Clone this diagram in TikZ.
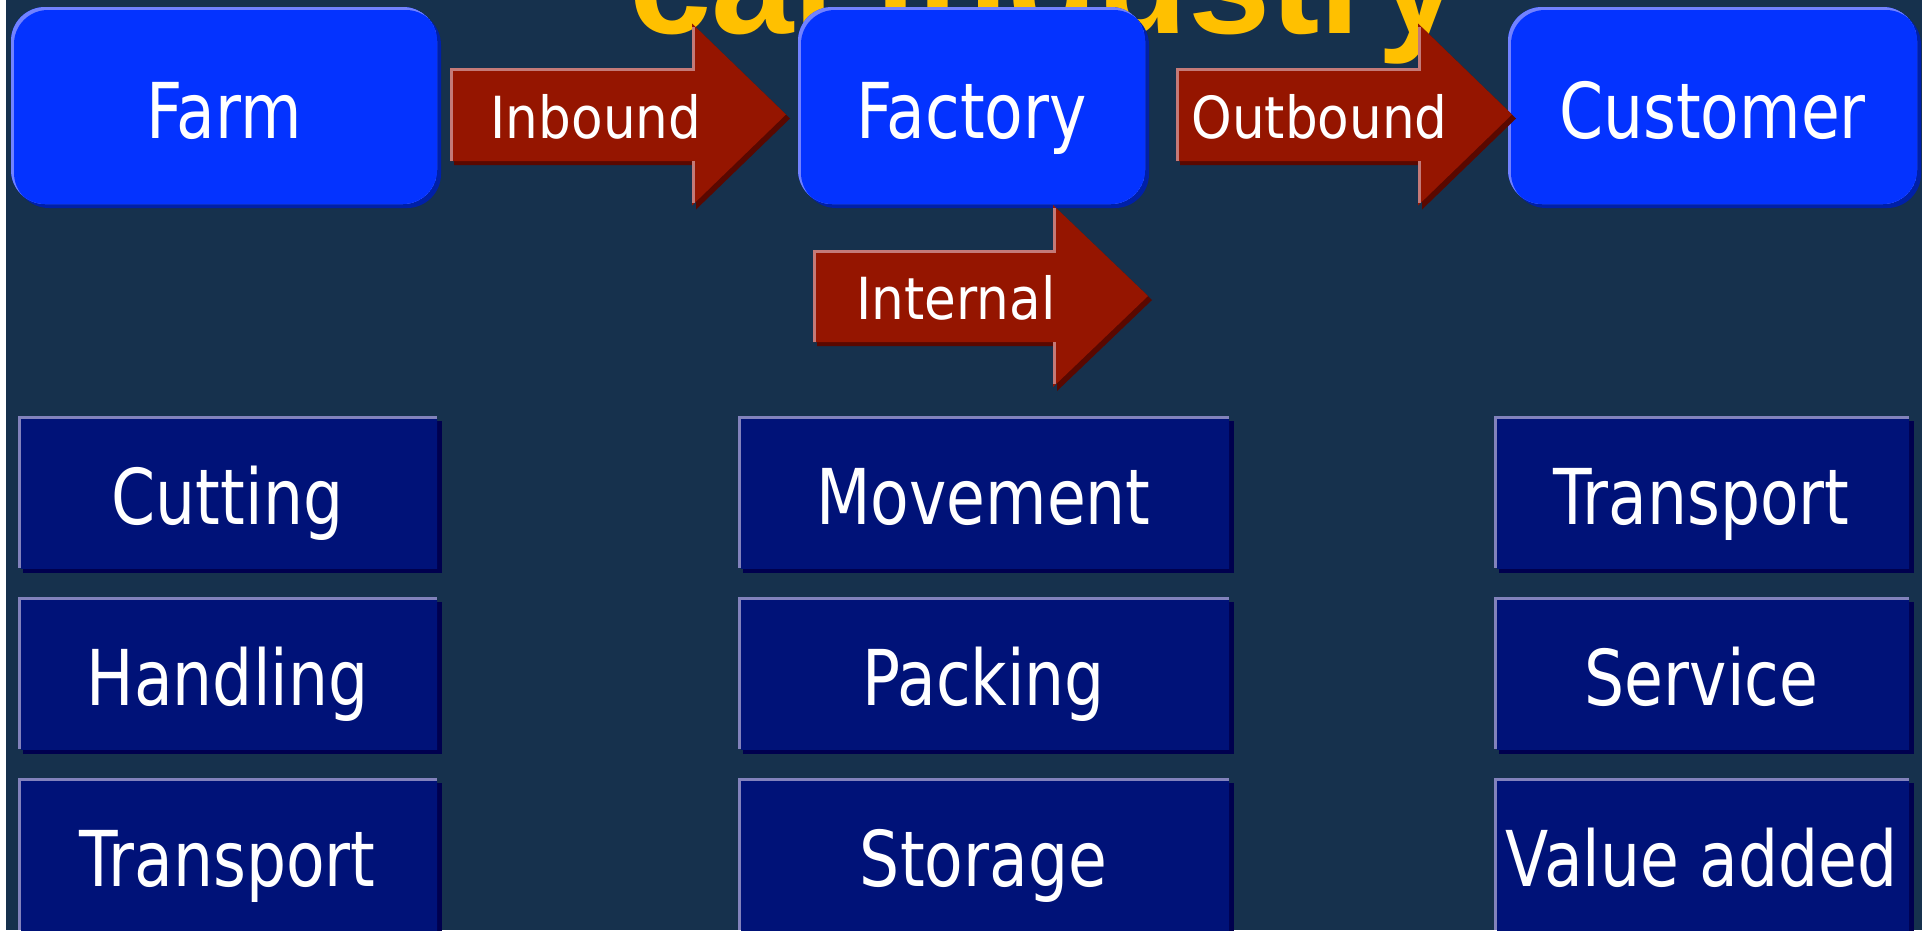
\documentclass[tikz,border=0pt]{standalone}
\usepackage{fontspec}
\setmainfont{DejaVu Sans}
\newfontfamily\boxfont{DejaVu Sans}[FakeStretch=0.82]
\newfontfamily\arrowfont{DejaVu Sans}[FakeStretch=0.89]
\newfontfamily\titlefont{Liberation Sans}
\usetikzlibrary{shadows}

\definecolor{bgslate}{HTML}{16314D}
\definecolor{stageblue}{HTML}{0433FF}
\definecolor{stagerim}{HTML}{7282FF}
\definecolor{stageshade}{HTML}{0020A8}
\definecolor{taskblue}{HTML}{001278}
\definecolor{taskrim}{HTML}{8282BC}
\definecolor{taskshade}{HTML}{00004E}
\definecolor{flowred}{HTML}{951500}
\definecolor{flowrim}{HTML}{C47A78}
\definecolor{flowshade}{HTML}{5A0800}
\definecolor{titlegold}{HTML}{FFC000}

% block arrow: name, tail x, body top, body bottom, head base x, head top, head bottom, tip x, tip y
\newcommand\flowarrow[9]{%
  \coordinate (#1-tail) at (#2,{(#3+#4)/2});
  \coordinate (#1-tip) at (#8,#9);
  \fill[flowshade, shift={(4,4)}] (#2,#3) -- (#5,#3) -- (#5,#6) -- (#8,#9) -- (#5,#7) -- (#5,#4) -- (#2,#4) -- cycle;
  \fill[flowred] (#2,#3) -- (#5,#3) -- (#5,#6) -- (#8,#9) -- (#5,#7) -- (#5,#4) -- (#2,#4) -- cycle;
  \draw[flowrim, line width=3pt] (#2+1.5,#4) -- (#2+1.5,#3+1.5) -- (#5+1.5,#3+1.5) -- (#5+1.5,#6+3);
  \draw[flowrim, line width=3pt] (#5+1.5,#4) -- (#5+1.5,#7-3);
}

\begin{document}
\begin{tikzpicture}[x=1pt, y=-1pt,
  stage/.style={inner sep=0pt, minimum height=197pt, rounded corners=34pt,
    fill=stageblue, text=white, font=\boxfont\fontsize{77}{80}\selectfont,
    text height=65pt, text depth=0pt,
    drop shadow={shadow xshift=4pt, shadow yshift=-4pt, fill=stageshade, opacity=1},
    path picture={
      \fill[stagerim] (path picture bounding box.south west) rectangle (path picture bounding box.north east);
      \fill[stageblue, rounded corners=34pt] ([shift={(3pt,-3pt)}]path picture bounding box.south west)
        rectangle ([shift={(3pt,-3pt)}]path picture bounding box.north east);
    }},
  task/.style={inner sep=0pt, minimum height=152pt,
    fill=taskblue, text=white, font=\boxfont\fontsize{77}{80}\selectfont,
    text height=64pt, text depth=0pt,
    drop shadow={shadow xshift=4.5pt, shadow yshift=-4.5pt, fill=taskshade, opacity=1},
    path picture={
      \fill[taskrim] (path picture bounding box.south west) rectangle (path picture bounding box.north east);
      \fill[taskblue] ([shift={(3pt,-3pt)}]path picture bounding box.south west)
        rectangle ([shift={(3pt,-3pt)}]path picture bounding box.north east);
    }},
  flowtext/.style={inner sep=0pt, text=white, font=\arrowfont\fontsize{58}{60}\selectfont,
    text height=47pt, text depth=0pt},
  titletext/.style={inner sep=0pt, text=titlegold, font=\titlefont\bfseries\fontsize{148}{150}\selectfont}
]
\useasboundingbox (0,0) rectangle (1922,930);
\clip (0,0) rectangle (1922,930);
\fill[white] (0,0) rectangle (1922,930);
\fill[bgslate] (6,0) rectangle (1922,930);

% heading, partly hidden behind the stages
\node[titletext, anchor=base west] (title) at (629,33) {cal industry};

% stages of the chain
\node[stage, minimum width=426pt] (farm) at (224,105.5) {Farm};
\node[stage, minimum width=347pt] (factory) at (971.5,105.5) {Factory};
\node[stage, minimum width=409pt] (customer) at (1712.5,105.5) {Customer};

% flows between the stages
\flowarrow{inb}{450}{68}{161}{692}{23.5}{205.5}{786}{114.5}
\node[flowtext] (inbound) at (596,114.5) {Inbound};
\flowarrow{outb}{1176}{68}{161}{1418}{23.5}{205.5}{1512}{114.5}
\node[flowtext] (outbound) at (1319.5,114.5) {Outbound};
\flowarrow{intl}{813}{250}{342}{1053}{205}{387}{1148}{296}
\node[flowtext] (internal) at (956,296) {Internal};

% activities at each stage
\node[task, minimum width=419pt] (cutting)   at (227.5,492) {Cutting};
\node[task, minimum width=419pt] (handling)  at (227.5,673) {Handling};
\node[task, minimum width=419pt] (transportA) at (227.5,854) {Transport};

\node[task, minimum width=491pt] (movement)  at (983.5,492) {Movement};
\node[task, minimum width=491pt] (packing)   at (983.5,673) {Packing};
\node[task, minimum width=491pt] (storage)   at (983.5,854) {Storage};

\node[task, minimum width=415pt] (transportB) at (1701.5,492) {Transport};
\node[task, minimum width=415pt] (service)   at (1701.5,673) {Service};
\node[task, minimum width=415pt] (valueadd)  at (1701.5,854) {Value added};
\end{tikzpicture}
\end{document}
